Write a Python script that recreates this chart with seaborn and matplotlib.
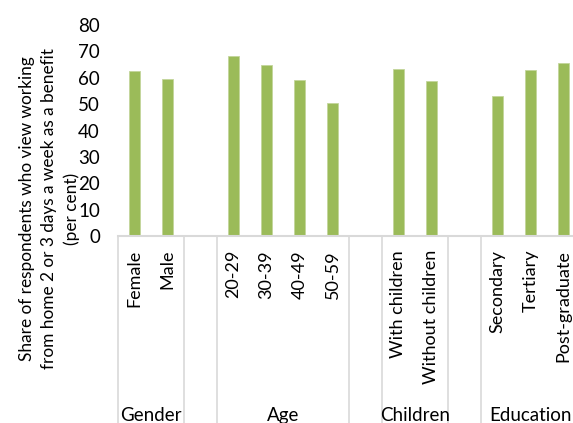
import matplotlib
matplotlib.use("Agg")
import matplotlib.pyplot as plt
import matplotlib.transforms as mtransforms
import seaborn as sns
import pandas as pd

# Data (per cent)
groups = ["Gender", "Age", "Children", "Education"]
categories = [
    ["Female", "Male"],
    ["20-29", "30-39", "40-49", "50-59"],
    ["With children", "Without children"],
    ["Secondary", "Tertiary", "Post-graduate"],
]
values = [
    [62.5, 59.5],
    [68.2, 64.7, 59.1, 50.4],
    [63.3, 58.6],
    [52.9, 63.0, 65.7],
]
y_ticks = [0, 10, 20, 30, 40, 50, 60, 70, 80]
y_label = ("Share of respondents who view working\n"
           "from home 2 or 3 days a week as a benefit\n"
           "(per cent)")

BAR = "#9bbb59"
LINE = "#d9d9d9"

sns.set_theme(style="white")
plt.rcParams['font.family'] = ['Lato', 'DejaVu Sans']

# Build slot order with an empty slot between groups
order, labels, spans = [], [], []
rows = []
for gi, (g, cats, vals) in enumerate(zip(groups, categories, values)):
    if gi > 0:
        gap = f"_gap{gi}"
        order.append(gap)
        labels.append("")
    start = len(order)
    for c, v in zip(cats, vals):
        order.append(c)
        labels.append(c)
        rows.append({"category": c, "value": v})
    spans.append((g, start, len(order)))
df = pd.DataFrame(rows)

fig = plt.figure(figsize=(5.73, 4.23), dpi=100)
ax = fig.add_axes([118 / 573, 1 - 236 / 423, 462 / 573, (236 - 25) / 423])

sns.barplot(data=df, x="category", y="value", order=order, color=BAR,
            width=0.33, saturation=1, edgecolor="#c3d69b", linewidth=0.6, ax=ax)

ax.set_xlim(-0.5, len(order) - 0.5)
ax.set_ylim(0, 80)
ax.set_yticks(y_ticks)
ax.tick_params(axis="y", length=0, pad=13, labelsize=13.5, labelcolor="black")
ax.set_xticks(range(len(order)))
ax.set_xticklabels(labels, rotation=90, va="top", ha="center")
ax.tick_params(axis="x", length=0, pad=10, labelsize=13, labelcolor="black")
ax.set_xlabel("")
ax.set_ylabel(y_label, fontsize=12.4, color="black", linespacing=1.45)
ax.yaxis.set_label_coords(-0.083, 0.13)

for s in ["left", "right", "top"]:
    ax.spines[s].set_visible(False)
ax.spines["bottom"].set_color(LINE)
ax.spines["bottom"].set_linewidth(1.5)

# Group separators and group labels below the axis
trans = mtransforms.blended_transform_factory(ax.transData, ax.transAxes)
bounds = sorted({b for _, s, e in spans for b in (s - 0.5, e - 0.5)})
for b in bounds:
    ax.plot([b, b], [0, -0.95], color=LINE, lw=1.2, transform=trans, clip_on=False)
for g, s, e in spans:
    ax.text((s + e - 1) / 2, -0.85, g, transform=trans, ha="center", va="center",
            fontsize=13.5, color="black")

fig.savefig("out.png", dpi=100)
